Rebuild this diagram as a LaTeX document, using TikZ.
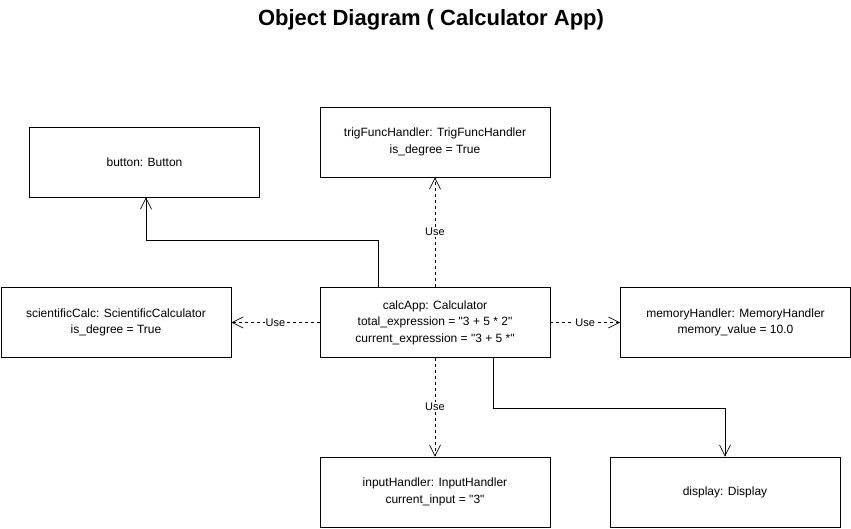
\documentclass[tikz,border=0pt]{standalone}
\usepackage{fontspec}
\setmainfont{Liberation Sans}
\usetikzlibrary{positioning,calc,arrows.meta}
\tikzset{>={Straight Barb[length=11pt,width=11pt]}}
\tikzset{objbox/.style={draw,minimum width=230pt,minimum height=70pt,align=center,font=\fontsize{12}{16.5}\selectfont},
  uses/.style={dash pattern=on 3pt off 3pt,->},
  uselabel/.style={fill=white,inner sep=1pt,font=\fontsize{11}{13}\selectfont}}
\newcommand{\dq}{\textquotedbl}

\begin{document}
\begin{tikzpicture}[x=1pt,y=-1pt,line width=0.7pt]
\useasboundingbox (0,0) rectangle (851,528);
\node[font=\bfseries\fontsize{22}{26}\selectfont] (title) at (431,20) {Object Diagram ( Calculator App)};
% objects
\node[objbox] (calcApp) at (435,322.5) {calcApp: Calculator\\total\_expression = \dq3 + 5 * 2\dq\\current\_expression = \dq3 + 5 *\dq};
\node[objbox] (button) at (144.5,162) {button: Button};
\node[objbox] (trigFuncHandler) at (435,142) {trigFuncHandler: TrigFuncHandler\\is\_degree = True};
\node[objbox] (scientificCalc) at (116,322.5) {scientificCalc: ScientificCalculator\\is\_degree = True};
\node[objbox] (memoryHandler) at (735.5,322.5) {memoryHandler: MemoryHandler\\memory\_value = 10.0};
\node[objbox] (inputHandler) at (435,492) {inputHandler: InputHandler\\current\_input = \dq3\dq};
\node[objbox] (display) at (725,492) {display: Display};
% links
\draw[->] ([xshift=-57pt]calcApp.north) -- ++(0,-47) -| ([xshift=1.5pt]button.south);
\draw[->] ([xshift=58pt]calcApp.south) -- ++(0,50) -| (display.north);
\draw[uses] (calcApp.north) -- node[uselabel] {Use} (trigFuncHandler.south);
\draw[uses] (calcApp.west) -- node[uselabel] {Use} (scientificCalc.east);
\draw[uses] (calcApp.east) -- node[uselabel] {Use} (memoryHandler.west);
\draw[uses] (calcApp.south) -- node[uselabel] {Use} (inputHandler.north);
\end{tikzpicture}
\end{document}
